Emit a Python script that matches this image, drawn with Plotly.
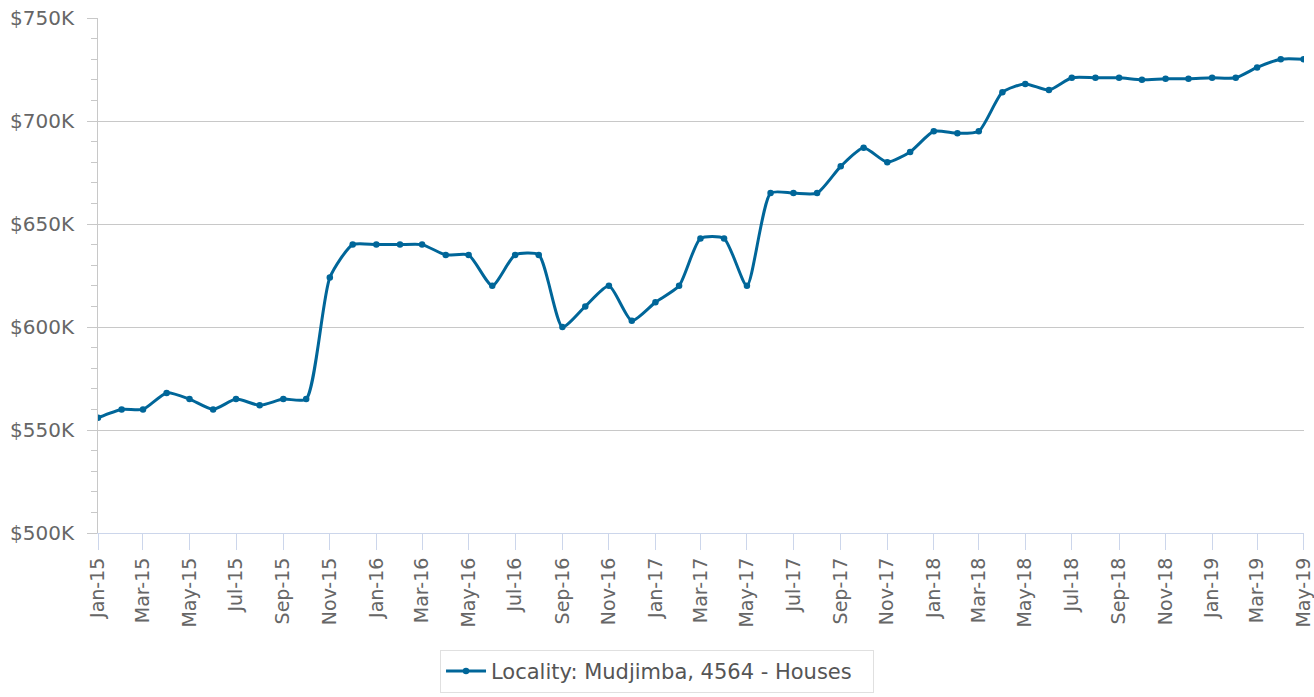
import plotly.graph_objects as go
import pandas as pd

months = pd.date_range("2015-01-01", "2019-05-01", freq="MS")
values = [556, 560, 560, 568, 565, 560, 565, 562, 565, 565,
          624, 640, 640, 640, 640, 635, 635, 620, 635, 635,
          600, 610, 620, 603, 612, 620, 643, 643, 620, 665,
          665, 665, 678, 687, 680, 685, 695, 694, 695, 714,
          718, 715, 721, 721, 721, 720, 720.5, 720.5, 721, 721,
          726, 730, 730]
values = [v * 1000 for v in values]

x_tick_vals = list(months[::2])
x_tick_text = [d.strftime("%b-%y") for d in x_tick_vals]

y_tick_vals = [500000, 550000, 600000, 650000, 700000, 750000]
y_tick_text = ["$500K", "$550K", "$600K", "$650K", "$700K", "$750K"]

series_name = "Locality: Mudjimba, 4564 - Houses"

FONT = "DejaVu Sans"
GRAY = "#666666"
LINE = "#006699"

fig = go.Figure()
fig.add_trace(go.Scatter(
    x=months, y=values, name=series_name,
    mode="lines+markers",
    line=dict(color=LINE, width=3, shape="spline", smoothing=0.6),
    marker=dict(color=LINE, size=6.5),
    showlegend=True,
))

fig.update_layout(
    template="none",
    width=1314, height=697,
    margin=dict(l=98, r=10, t=18, b=164, autoexpand=False),
    plot_bgcolor="white", paper_bgcolor="white",
    font=dict(family=FONT, color=GRAY, size=18),
    showlegend=True,
    legend=dict(
        orientation="h", x=0.2836, xanchor="left", y=-0.227, yanchor="top",
        bordercolor="#e0e0e0", borderwidth=1, bgcolor="white",
        font=dict(family=FONT, size=21, color="#555555"),
        itemwidth=40, entrywidth=377,
    ),
    xaxis=dict(
        automargin=False,
        range=[months[0], months[-1] + pd.Timedelta(hours=12)],
        tickvals=x_tick_vals, ticktext=x_tick_text,
        tickangle=-90, ticks="outside", ticklen=16, tickcolor="#ccd6eb",
        showgrid=False, showline=True, linecolor="#ccd6eb", linewidth=1,
        tickfont=dict(family=FONT, size=19, color=GRAY),
        zeroline=False,
    ),
    yaxis=dict(
        automargin=False,
        range=[500000, 750000],
        tickvals=y_tick_vals, ticktext=y_tick_text,
        ticks="outside", ticklen=10, tickcolor="#c8c8c8",
        ticklabelstandoff=9,
        showgrid=True, gridcolor="#c8c8c8", gridwidth=1,
        showline=True, linecolor="#c8c8c8", linewidth=1,
        tickfont=dict(family=FONT, size=20, color=GRAY),
        zeroline=False,
        minor=dict(dtick=10000, tick0=500000, ticks="outside", ticklen=6,
                   tickcolor="#c8c8c8", showgrid=False),
    ),
)

fig.write_html(
    "out.html",
    config={"displayModeBar": False},
    post_script="document.body.style.margin='0px';document.body.style.overflow='hidden';",
)
